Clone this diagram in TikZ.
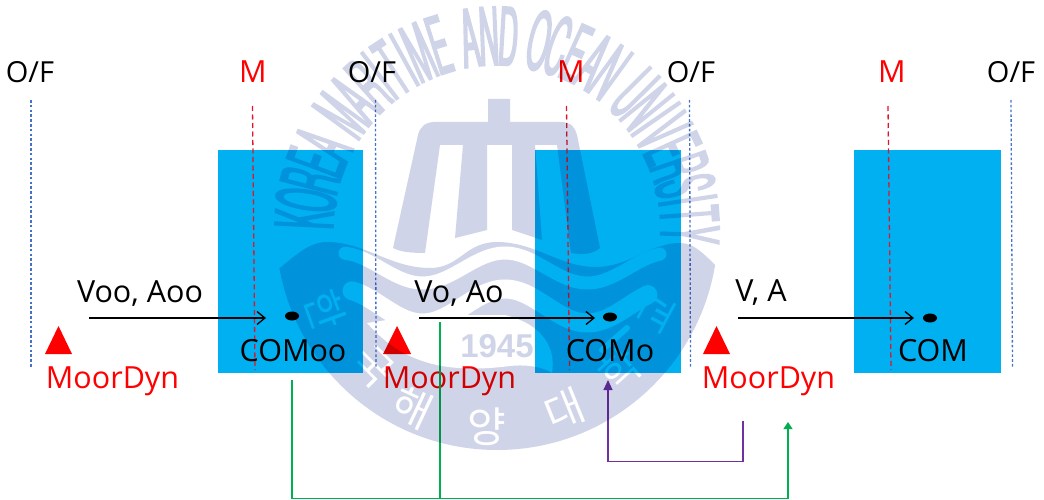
\documentclass[tikz,border=0pt]{standalone}
\usepackage{fontspec}
\setmainfont{Open Sans}
\newfontfamily\wmfont[FakeStretch=0.34,FakeBold=2]{TeX Gyre Heros}
\newfontfamily\wmnum{Liberation Sans}
\newfontfamily\krfont{Noto Sans CJK KR}
\usetikzlibrary{arrows.meta,shapes.geometric}
\definecolor{boxblue}{HTML}{00B0F0}
\definecolor{ofblue}{HTML}{4472C4}
\definecolor{mred}{HTML}{E0162B}
\definecolor{lab}{HTML}{FF0000}
\definecolor{wm}{HTML}{D0D4E8}
\definecolor{gr}{HTML}{00B050}
\definecolor{pu}{HTML}{7030A0}
\tikzset{
  lbl/.style={font=\fontsize{30.5}{36}\selectfont,inner sep=0pt,anchor=center},
  oflbl/.style={font=\fontsize{29}{36}\selectfont,inner sep=0pt,anchor=center},
  redlbl/.style={lbl,text=lab},
  body/.style={fill=boxblue,draw=none,minimum width=#1,minimum height=223pt,inner sep=0pt,anchor=north west},
  ofline/.style={draw=ofblue,line width=1.3pt,dash pattern=on 2.6pt off 2.2pt},
  mline/.style={draw=mred,line width=1.3pt,dash pattern=on 5pt off 3.5pt},
  vec/.style={draw=black,line width=1.4pt,-{Straight Barb[length=8pt,width=13pt,line width=1.3pt]}},
  dotn/.style={ellipse,fill=black,minimum width=14pt,minimum height=9pt,inner sep=0pt},
  tri/.style={fill=lab,draw=none},
  grline/.style={draw=gr,line width=1.2pt},
  puline/.style={draw=pu,line width=1.2pt},
  wmletter/.style={text=wm,inner sep=0pt,font=\fontsize{80}{80}\selectfont\wmfont},
  krletter/.style={text=white,inner sep=0pt,font=\fontsize{42}{42}\selectfont\krfont},
}
\begin{document}
\begin{tikzpicture}[x=1pt,y=-1pt]
\useasboundingbox (0,0) rectangle (1044,500);
\fill[white] (0,0) rectangle (1044,500);
% ship bodies
\node[body=145pt] (b1) at (218,150) {};
\node[body=146pt] (b2) at (535,150) {};
\node[body=147pt] (b3) at (854,150) {};
% dashed lines
\coordinate (of1t) at (31,100); \coordinate (of1b) at (31,367);
\coordinate (of2t) at (375.5,100); \coordinate (of2b) at (376,367);
\coordinate (of3t) at (689.5,100); \coordinate (of3b) at (690.5,367);
\coordinate (of4t) at (1011,100); \coordinate (of4b) at (1012.5,367);
\draw[ofline] (of1t)--(of1b); \draw[ofline] (of2t)--(of2b);
\draw[ofline] (of3t)--(of3b); \draw[ofline] (of4t)--(of4b);
\coordinate (m1t) at (252.5,106); \coordinate (m1b) at (255,370);
\coordinate (m2t) at (566.5,106); \coordinate (m2b) at (569.5,370);
\coordinate (m3t) at (888,106); \coordinate (m3b) at (891,370);
\draw[mline] (m1t)--(m1b); \draw[mline] (m2t)--(m2b); \draw[mline] (m3t)--(m3b);
% top labels
\node[oflbl] (of1) at (30,72) {O/F};
\node[oflbl] (of2) at (372,72) {O/F};
\node[oflbl] (of3) at (691,72) {O/F};
\node[oflbl] (of4) at (1011,72) {O/F};
\node[redlbl] (m1) at (253,72) {M};
\node[redlbl] (m2) at (571,72) {M};
\node[redlbl] (m3) at (892,72) {M};
% velocity labels
\node[lbl] (v1) at (140,294) {Voo, Aoo};
\node[lbl] (v2) at (459,294) {Vo, Ao};
\node[lbl] (v3) at (761,293) {V, A};
% centres of mass
\node[dotn] (d1) at (292,316) {};
\node[dotn] (d2) at (610,317) {};
\node[dotn] (d3) at (930,318) {};
\node[lbl] (c1) at (293,351) {COMoo};
\node[lbl] (c2) at (610,351) {COMo};
\node[lbl] (c3) at (933,351) {COM};
% velocity arrows
\coordinate (a1s) at (89,318); \coordinate (a1e) at (266,318);
\coordinate (a2s) at (419,318); \coordinate (a2e) at (595,318);
\coordinate (a3s) at (738,318); \coordinate (a3e) at (914,318);
\draw[vec] (a1s)--(a1e); \draw[vec] (a2s)--(a2e); \draw[vec] (a3s)--(a3e);
% triangles
\fill[tri] (45,354)--(58.5,326)--(72,354)--cycle;
\fill[tri] (383,354)--(397,326)--(411,354)--cycle;
\fill[tri] (703,354)--(716.5,326)--(730,354)--cycle;
\node[redlbl] (md1) at (112.5,381) {MoorDyn};
\node[redlbl] (md2) at (449.5,381) {MoorDyn};
\node[redlbl] (md3) at (768.5,381) {MoorDyn};
% green connector
\coordinate (g1) at (292,380); \coordinate (g2) at (292,498.5);
\coordinate (g3) at (788,498.5); \coordinate (g4) at (788,422);
\coordinate (g5) at (440,322); \coordinate (g6) at (440,498.5);
\draw[grline,-{Triangle[length=7pt,width=9pt]}] (g1)--(g2)--(g3)--(g4);
\draw[grline] (g5)--(g6);
% purple connector
\coordinate (p1) at (743,421); \coordinate (p2) at (743,461.5);
\coordinate (p3) at (608,461.5); \coordinate (p4) at (608,380);
\draw[puline,-{Triangle[length=10pt,width=9pt]}] (p1)--(p2)--(p3)--(p4);
% watermark
\begin{scope}[blend mode=multiply]
\begin{scope}[transparency group]
  \pgfsetblendmode{normal}
  % tower
  \fill[wm]
    (488,122)--(488,99)--(510,99)--(510,122)--(560,122) .. controls (572,122) and (575,128) .. (577,135)
    --(600,248) .. controls (590,256) and (580,254) .. (571,253)--(557,145)--(535,145)--(542,240)--(512,230)--(512,145)--(487,145)
    --(487,230)--(455,238)--(463,145)--(440,145)--(425,253) .. controls (412,253) and (400,252) .. (393,248)
    --(418,135) .. controls (420,127) and (425,122) .. (435,122)--cycle;
  % sea disk
  \begin{scope}
    \clip (497,229) circle (221);
    \fill[wm] (270,300)--(270,275) .. controls (290,262) and (305,242) .. (327,242)
      .. controls (365,242) and (390,268) .. (430,268)
      .. controls (460,268) and (465,242) .. (497,242)
      .. controls (535,242) and (560,267) .. (595,267)
      .. controls (630,267) and (650,243) .. (680,243)
      .. controls (695,243) and (705,255) .. (725,275)--(725,460)--(270,460)--cycle;
    \draw[white,line width=13pt,line cap=round] plot[domain=345:660,samples=90,smooth] (\x,{268-15*cos((\x-505)/165*360)});
    \draw[white,line width=19pt,line cap=round] plot[domain=352:648,samples=90,smooth] (\x,{306-17*cos((\x-505)/165*360)});
    \fill[white] (367,323) .. controls (400,360) and (440,375) .. (510,366)
      .. controls (530,364) and (545,368) .. (552,373)
      .. controls (556,350) and (545,325) .. (505,315)--(420,315)--cycle;
    \draw[white,line width=6pt,line cap=round] (602,350)--(627,328);
  \end{scope}
  \node[text=wm,inner sep=0pt,font=\fontsize{33}{33}\selectfont\wmnum\bfseries] (y45) at (497,346) {1945};
  % Korean name along the lower arc
  \node[krletter,rotate=-70] (k1) at (325,310) {한};
  \node[krletter,rotate=-45] (k2) at (373,367) {국};
  \node[krletter,rotate=-25] (k3) at (413,407) {해};
  \node[krletter,rotate=0]  (k4) at (487,427) {양};
  \node[krletter,rotate=22] (k5) at (565,410) {대};
  \node[krletter,rotate=42] (k6) at (620,370) {학};
  \node[krletter,rotate=62] (k7) at (657,313) {교};
  % University name along the upper arc
  \gdef\wmpos{0}
  \foreach \c/\w [count=\i] in {K/1,O/1,R/1,E/1,A/1,{}/.6,M/1.2,A/1,R/1,I/.5,T/1,I/.5,M/1.2,E/1,{}/.6,A/1,N/1,D/1,{}/.6,O/1,C/1,E/1,A/1,N/1,{}/.6,U/1,N/1,I/.5,V/1,E/1,R/1,S/1,I/.5,T/1,Y/1}{
    \pgfmathsetmacro\th{180-5.8*(\wmpos+\w/2)}
    \node[wmletter,rotate=\th-90] (wl\i) at ({497+193*cos(\th)},{229-193*sin(\th)}) {\c};
    \pgfmathparse{\wmpos+\w}\xdef\wmpos{\pgfmathresult}
  }
\end{scope}
\end{scope}
\end{tikzpicture}
\end{document}
